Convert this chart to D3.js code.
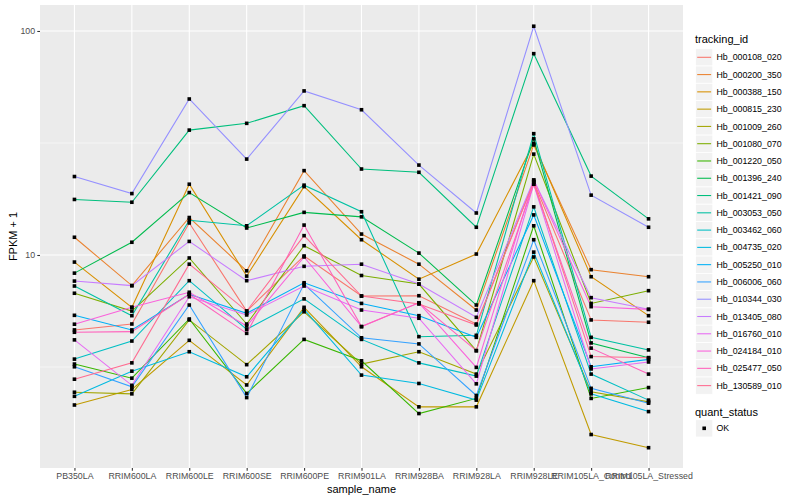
<!DOCTYPE html>
<html><head><meta charset="utf-8">
<script src="https://cdn.jsdelivr.net/npm/d3@7"></script>
<style>body{margin:0;background:#fff}text{font-family:"Liberation Sans",Arial,Helvetica,sans-serif}</style>
</head><body>
<svg id="c" width="800" height="500"></svg>
<script>
const samples = ["PB350LA","RRIM600LA","RRIM600LE","RRIM600SE","RRIM600PE","RRIM901LA","RRIM928BA","RRIM928LA","RRIM928LE","RRIM105LA_Control","RRIM105LA_Stressed"];
const trackingIds = ["Hb_000108_020","Hb_000200_350","Hb_000388_150","Hb_000815_230","Hb_001009_260","Hb_001080_070","Hb_001220_050","Hb_001396_240","Hb_001421_090","Hb_003053_050","Hb_003462_060","Hb_004735_020","Hb_005250_010","Hb_006006_060","Hb_010344_030","Hb_013405_080","Hb_016760_010","Hb_024184_010","Hb_025477_050","Hb_130589_010"];
const colors = ["#F8766D","#EA8331","#D89000","#C09B00","#A3A500","#7CAE00","#39B600","#00BB4E","#00BF7D","#00C1A3","#00BFC4","#00BAE0","#00B0F6","#35A2FF","#9590FF","#C77CFF","#E76BF3","#FA62DB","#FF62BC","#FF6C91"];
// FPKM + 1 per sample, one array per tracking_id
const hb000108_020 = [4.63,4.92,13.9,5.62,9.9,6.56,6.58,4.92,21.2,5.13,5.01];
const hb000200_350 = [12.0,7.3,14.7,8.5,23.8,12.4,9.1,5.68,31.0,8.6,8.0];
const hb000388_150 = [9.3,5.84,20.7,8.05,20.2,11.7,7.8,10.1,31.5,8.0,5.36];
const hb000815_230 = [2.14,2.51,4.16,2.63,5.84,3.17,2.10,2.10,7.68,1.58,1.38];
const hb001009_260 = [2.44,2.40,5.13,3.24,5.58,3.26,3.70,2.94,9.8,2.45,2.21];
const hb001080_070 = [6.75,5.62,9.7,4.92,11.0,8.1,7.42,3.74,28.2,6.08,6.93];
const hb001220_050 = [3.26,2.82,5.18,2.41,4.2,3.37,1.96,2.29,13.5,2.29,2.56];
const hb001396_240 = [8.3,11.4,19.0,13.2,15.5,14.8,10.2,5.98,33.0,4.05,3.48];
const hb001421_090 = [17.7,17.2,36.1,38.7,46.4,24.2,23.4,13.3,79.2,22.5,14.5];
const hb003053_050 = [7.27,5.36,14.3,13.5,20.5,15.6,4.32,4.38,34.8,4.29,3.77];
const hb003462_060 = [3.43,4.13,7.68,4.66,6.37,4.2,3.30,2.88,16.4,2.94,2.25];
const hb004735_020 = [2.34,3.03,3.70,2.86,5.72,2.91,2.67,2.25,10.3,2.40,2.0];
const hb005250_010 = [5.38,4.63,6.68,5.49,7.52,6.08,5.36,4.29,15.1,3.17,3.42];
const hb006006_060 = [3.17,2.58,5.98,2.31,7.42,4.27,4.01,2.36,11.7,2.54,2.18];
const hb010344_030 = [22.4,18.8,49.7,26.8,54,44.5,25.2,15.4,105,18.5,13.3];
const hb013405_080 = [7.65,7.3,11.5,7.68,8.9,9.1,7.42,5.27,21.6,6.45,5.72];
const hb016760_010 = [4.18,2.62,6.51,5.40,7.27,5.68,5.22,2.66,20.7,3.10,3.33];
const hb024184_010 = [4.91,5.84,6.82,4.82,9.8,4.79,6.12,3.15,21.6,5.88,5.72];
const hb025477_050 = [4.52,4.55,6.68,4.47,13.6,4.79,6.12,3.74,20.7,3.84,2.94];
const hb130589_010 = [2.79,3.30,9.1,5.62,12.2,6.56,6.04,4.87,21.2,3.52,3.48];
const seriesValues = [hb000108_020,hb000200_350,hb000388_150,hb000815_230,hb001009_260,hb001080_070,hb001220_050,hb001396_240,hb001421_090,hb003053_050,hb003462_060,hb004735_020,hb005250_010,hb006006_060,hb010344_030,hb013405_080,hb016760_010,hb024184_010,hb025477_050,hb130589_010];
const yTicks = [10, 100];
const yMinor = [Math.sqrt(10), Math.pow(10,1.5)];

const svg = d3.select("#c");
const P = {l:40, r:683, t:5, b:468};
const x = d3.scalePoint().domain(samples).range([P.l, P.r]).padding(0.6);
const y = d3.scaleLog().domain([1.12, 130.6]).range([P.b, P.t]);

svg.append("rect").attr("x",P.l).attr("y",P.t).attr("width",P.r-P.l).attr("height",P.b-P.t).attr("fill","#EBEBEB");
const g = svg.append("g");
yMinor.forEach(v=>g.append("line").attr("x1",P.l).attr("x2",P.r).attr("y1",y(v)).attr("y2",y(v)).attr("stroke","#fff").attr("stroke-width",0.55));
yTicks.forEach(v=>g.append("line").attr("x1",P.l).attr("x2",P.r).attr("y1",y(v)).attr("y2",y(v)).attr("stroke","#fff").attr("stroke-width",1.1));
samples.forEach(s=>g.append("line").attr("x1",x(s)).attr("x2",x(s)).attr("y1",P.t).attr("y2",P.b).attr("stroke","#fff").attr("stroke-width",1.1));

const line = d3.line().x((d,i)=>x(samples[i])).y(d=>y(d));
seriesValues.forEach((vals,k)=>{
  svg.append("path").attr("d",line(vals)).attr("fill","none").attr("stroke",colors[k]).attr("stroke-width",1.07);
});
seriesValues.forEach((vals)=>{
  vals.forEach((v,i)=>svg.append("rect").attr("x",x(samples[i])-1.8).attr("y",y(v)-1.8).attr("width",3.6).attr("height",3.6).attr("fill","#000"));
});

// axes
const yAxis = svg.append("g").attr("transform",`translate(${P.l},0)`)
  .call(d3.axisLeft(y).tickValues(yTicks).tickFormat(d3.format("d")).tickSize(2.7).tickPadding(2.2));
const xAxis = svg.append("g").attr("transform",`translate(0,${P.b})`)
  .call(d3.axisBottom(x).tickSize(2.7).tickPadding(2.2));
[yAxis,xAxis].forEach(a=>{
  a.select(".domain").remove();
  a.selectAll(".tick line").attr("stroke","#333").attr("stroke-width",1.07);
  a.selectAll(".tick text").attr("fill","#4D4D4D").style("font-size","8.8px").style("font-family",'"Liberation Sans",Arial,sans-serif');
});
svg.append("text").attr("x",P.l+(P.r-P.l)/2).attr("y",493).attr("text-anchor","middle").style("font-size","11px").attr("fill","#000").text("sample_name");
svg.append("text").attr("transform",`translate(17,${(P.t+P.b)/2}) rotate(-90)`).attr("text-anchor","middle").style("font-size","11px").attr("fill","#000").text("FPKM + 1");

// legend
const L = svg.append("g");
L.append("text").attr("x",695).attr("y",43).style("font-size","11px").text("tracking_id");
trackingIds.forEach((id,k)=>{
  const cy = 57.3 + k*17.28;
  L.append("rect").attr("x",695.5).attr("y",cy-8.6).attr("width",17.3).attr("height",17.3).attr("fill","#F2F2F2").attr("stroke","#fff").attr("stroke-width",0.8);
  L.append("line").attr("x1",697.2).attr("x2",711.1).attr("y1",cy).attr("y2",cy).attr("stroke",colors[k]).attr("stroke-width",1.07);
  L.append("text").attr("x",716.5).attr("y",cy+3.1).style("font-size","8.8px").text(id);
});
L.append("text").attr("x",695).attr("y",415.5).style("font-size","11px").text("quant_status");
L.append("rect").attr("x",695.5).attr("y",428.3-8.6).attr("width",17.3).attr("height",17.3).attr("fill","#F2F2F2").attr("stroke","#fff").attr("stroke-width",0.8);
L.append("rect").attr("x",704.2-1.8).attr("y",428.3-1.8).attr("width",3.6).attr("height",3.6).attr("fill","#000");
L.append("text").attr("x",716.5).attr("y",431.4).style("font-size","8.8px").text("OK");
</script>
</body></html>
